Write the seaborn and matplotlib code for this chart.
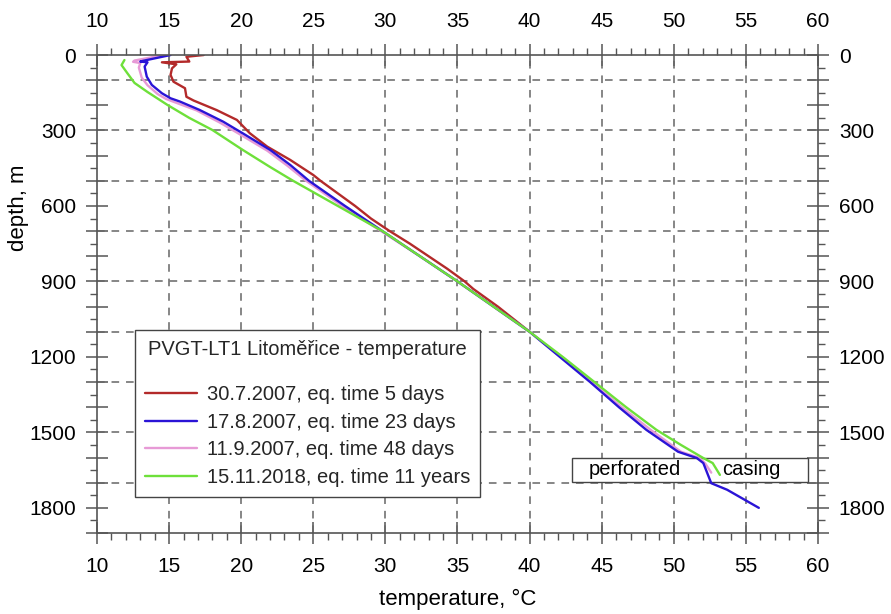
import matplotlib
matplotlib.use("Agg")
import matplotlib.pyplot as plt
from matplotlib.ticker import MultipleLocator, FuncFormatter
from matplotlib.patches import Rectangle
import seaborn as sns
import pandas as pd

# Temperature logs of borehole PVGT-LT1 (temperature in °C, depth in m)
red_depth = [0, 7, 26, 29, 37, 53, 79, 106, 132, 166, 181, 219, 258, 311, 364, 417,
             477, 500, 550, 600, 650, 700, 750, 800, 850, 900, 930, 1000, 1050, 1100]
red_temp = [17.4, 16.2, 16.4, 14.5, 15.5, 15.2, 15.1, 15.3, 16.1, 16.2, 16.7, 18.3,
            19.7, 20.6, 21.8, 23.4, 25.0, 25.5, 26.7, 27.9, 29.0, 30.3, 31.7, 33.0,
            34.3, 35.5, 36.1, 37.8, 38.9, 40.0]

blue_depth = [0, 23, 26, 29, 46, 86, 119, 152, 172, 185, 218, 265, 311, 377, 437,
              500, 600, 700, 800, 900, 1000, 1100, 1200, 1300, 1400, 1490, 1577,
              1602, 1622, 1702, 1728, 1800]
blue_temp = [15.1, 13.2, 13.0, 13.5, 13.3, 13.45, 13.8, 14.5, 15.1, 15.75, 17.1,
             18.75, 20.1, 22.0, 23.4, 24.7, 27.2, 29.8, 32.4, 35.0, 37.5, 40.0,
             42.1, 44.2, 46.2, 48.1, 50.3, 51.6, 52.05, 52.6, 53.7, 55.9]

pink_depth = [0, 22, 27, 32, 50, 90, 120, 155, 175, 190, 220, 268, 315, 380, 440,
              500, 600, 700, 800, 900, 1000, 1100, 1200, 1300, 1400, 1490, 1577,
              1602, 1625, 1660]
pink_temp = [14.6, 12.6, 12.5, 13.0, 12.9, 13.1, 13.5, 14.2, 14.8, 15.5, 16.9,
             18.5, 19.9, 21.8, 23.2, 24.5, 27.0, 29.7, 32.4, 35.0, 37.5, 40.0,
             42.15, 44.3, 46.4, 48.4, 50.5, 51.8, 52.2, 52.6]

green_depth = [20, 40, 72, 111, 147, 199, 250, 298, 377, 445, 500, 600, 700, 800,
               900, 1000, 1100, 1200, 1300, 1400, 1490, 1550, 1602, 1622, 1669]
green_temp = [11.9, 11.7, 12.1, 12.6, 13.5, 14.9, 16.4, 18.0, 20.1, 22.0, 23.6,
              26.7, 29.8, 32.4, 35.0, 37.5, 40.0, 42.3, 44.5, 46.7, 48.8, 50.5,
              52.05, 52.7, 53.2]

series_labels = ["30.7.2007, eq. time 5 days",
                 "17.8.2007, eq. time 23 days",
                 "11.9.2007, eq. time 48 days",
                 "15.11.2018, eq. time 11 years"]
series_colors = ["#b32a2a", "#2a14d6", "#e79ad6", "#6ee03a"]
series_data = [(red_temp, red_depth), (blue_temp, blue_depth),
               (pink_temp, pink_depth), (green_temp, green_depth)]
# drawing order (pink sits beneath blue)
draw_z = [2.0, 2.3, 2.2, 2.4]

grid_temps = [15, 20, 25, 30, 35, 40, 45, 50, 55]
grid_depths = [100, 300, 500, 700, 900, 1100, 1300, 1500, 1700]

sns.set_theme(style="white")
plt.rcParams["font.family"] = ["Liberation Sans", "DejaVu Sans"]

fig, ax = plt.subplots(figsize=(8.91, 6.14), dpi=100)
fig.subplots_adjust(left=0.1089, right=0.918, top=0.9104, bottom=0.1319)

frames = []
for (t, d), lab in zip(series_data, series_labels):
    frames.append(pd.DataFrame({"temperature": t, "depth": d, "series": lab}))
df = pd.concat(frames, ignore_index=True)

for lab, col, z in zip(series_labels, series_colors, draw_z):
    sub = df[df["series"] == lab]
    sns.lineplot(data=sub, x="temperature", y="depth", sort=False, estimator=None,
                 color=col, linewidth=1.7, label=lab, ax=ax, zorder=z, legend=False)

ax.set_xlim(10, 60)
ax.set_ylim(1900, 0)

# dashed grid
for gt in grid_temps:
    ax.axvline(gt, color="#666666", lw=1.1, dashes=(5, 4.5), zorder=1)
for gd in grid_depths:
    ax.axhline(gd, color="#666666", lw=1.1, dashes=(5, 4.5), zorder=1)

# ticks
ax.xaxis.set_major_locator(MultipleLocator(5))
ax.xaxis.set_minor_locator(MultipleLocator(1))
ax.yaxis.set_major_locator(MultipleLocator(100))
ax.yaxis.set_minor_locator(MultipleLocator(50))
ax.yaxis.set_major_formatter(FuncFormatter(
    lambda v, p: f"{int(round(v))}" if int(round(v)) % 300 == 0 else ""))
ax.xaxis.set_major_formatter(FuncFormatter(lambda v, p: f"{int(round(v))}"))

ax.tick_params(which="major", direction="inout", length=16, width=1.1,
               color="#555555", labelcolor="black", labelsize=15,
               top=True, right=True, bottom=True, left=True,
               labeltop=True, labelright=True)
ax.tick_params(which="minor", direction="out", length=5, width=1.0,
               color="#555555", top=True, right=True, bottom=True, left=True)
ax.tick_params(axis="x", which="major", pad=9)
ax.tick_params(axis="y", which="major", pad=7)

for sp in ax.spines.values():
    sp.set_color("#555555")
    sp.set_linewidth(1.2)

ax.set_xlabel("temperature, °C", fontsize=16, color="black")
ax.set_ylabel("depth, m", fontsize=16, color="black")
ax.xaxis.set_label_coords(0.5, -0.117)
ax.yaxis.set_label_coords(-0.095, 0.68)

# perforated casing annotation box
ax.add_patch(Rectangle((42.95, 1600), 16.35, 97, facecolor="white",
                       edgecolor="#444444", lw=1.0, zorder=1.5))
ax.text(47.3, 1649, "perforated", fontsize=14.5, ha="center", va="center",
        color="black", zorder=3)
ax.text(55.4, 1649, "casing", fontsize=14.5, ha="center", va="center",
        color="black", zorder=3)

handles, labels = ax.get_legend_handles_labels()
order = [labels.index(l) for l in series_labels]
leg = ax.legend([handles[i] for i in order], [labels[i] for i in order],
                title="PVGT-LT1 Litoměřice - temperature",
                loc="upper left", bbox_to_anchor=(0.0527, 0.4247),
                fontsize=14.5, title_fontsize=14.5, frameon=True, fancybox=False,
                edgecolor="#444444", framealpha=1, borderpad=0.5,
                handlelength=2.6, handletextpad=0.45, labelspacing=0.42,
                borderaxespad=0)
leg.get_frame().set_linewidth(1.0)
leg.set_zorder(5)
leg._legend_box.sep = 19

fig.savefig("out.png", dpi=100)
